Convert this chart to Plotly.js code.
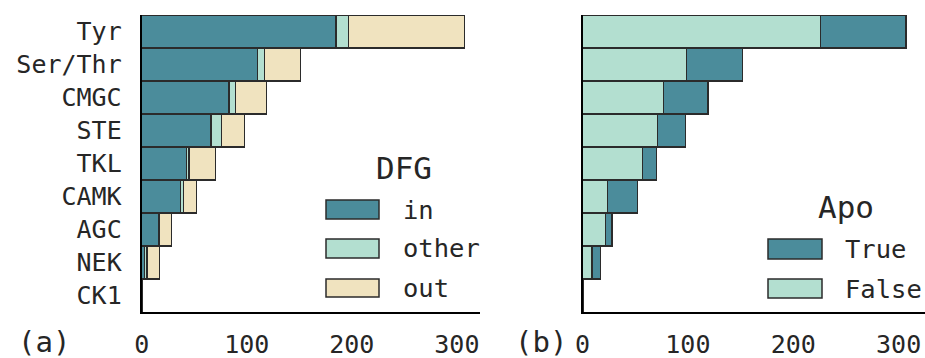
<!DOCTYPE html>
<html>
<head>
<meta charset="utf-8">
<script src="https://cdn.plot.ly/plotly-3.0.1.min.js"></script>
<style>html,body{margin:0;padding:0;background:#fff;}#chart{width:925px;height:358px;}</style>
</head>
<body>
<div id="chart"></div>
<script>
// ---- data ----
const categories = ["Tyr","Ser/Thr","CMGC","STE","TKL","CAMK","AGC","NEK","CK1"];
// panel (a): DFG conformation counts
const dfgIn    = [185, 110, 83, 66, 43, 37, 16, 3, 1];
const dfgOther = [12, 7, 6, 10, 2, 3, 1, 2, 0];
const dfgOut   = [110, 34, 30, 22, 25, 12, 11, 12, 0];
// panel (b): Apo counts
const apoFalse = [226, 99, 77, 71, 57, 24, 22, 9, 1];
const apoTrue  = [81, 53, 42, 27, 13, 28, 6, 8, 0];
const dfgNames = ["in","other","out"];
const apoNames = ["True","False"];
const xTicks = [0, 100, 200, 300];

// ---- styles ----
const C_TEAL = "#4b8c9b", C_MINT = "#b3dfd0", C_CREAM = "#f0e3bf";
const EDGE = {color: "#2b2b2b", width: 1.2};
const FONT = "DejaVu Sans Mono";
const TXT = "#262626";

function bar(x, name, color, xa, ya) {
  return {type: "bar", orientation: "h", y: categories, x: x, name: name,
          xaxis: xa, yaxis: ya, showlegend: false,
          marker: {color: color, line: EDGE}, hoverinfo: "x+y+name"};
}

const traces = [
  bar(dfgIn, dfgNames[0], C_TEAL, "x", "y"),
  bar(dfgOther, dfgNames[1], C_MINT, "x", "y"),
  bar(dfgOut, dfgNames[2], C_CREAM, "x", "y"),
  bar(apoFalse, apoNames[1], C_MINT, "x2", "y2"),
  bar(apoTrue, apoNames[0], C_TEAL, "x2", "y2"),
];

const W = 925, H = 358;
const px = v => v / W, py = v => 1 - v / H;

const yDomain = [py(312), py(15)];
const xAxisBase = {
  showgrid: false, zeroline: false, showline: true, linecolor: "#000", linewidth: 2,
  tickvals: xTicks, ticktext: xTicks.map(String),
  ticks: "outside", ticklen: 9, tickcolor: "rgba(0,0,0,0)",
  tickfont: {family: FONT, size: 25, color: TXT}, fixedrange: true
};
const yAxisBase = {
  type: "category", categoryorder: "array", categoryarray: categories,
  range: [8.5, -0.5], showgrid: false, zeroline: false, showline: true,
  linecolor: "#000", linewidth: 2, ticks: "outside", ticklen: 13,
  tickcolor: "rgba(0,0,0,0)", tickfont: {family: FONT, size: 25, color: TXT},
  domain: yDomain, fixedrange: true
};

const shapes = [], annotations = [];
function legendItem(x0, x1, y0, y1, color, label, tx) {
  shapes.push({type: "rect", xref: "paper", yref: "paper",
    x0: px(x0), x1: px(x1), y0: py(y1), y1: py(y0),
    fillcolor: color, line: {color: "#2b2b2b", width: 1.5}});
  annotations.push({xref: "paper", yref: "paper", x: px(tx), y: py((y0 + y1) / 2),
    xanchor: "left", yanchor: "middle", text: label, showarrow: false,
    font: {family: FONT, size: 25.5, color: TXT}});
}
function title(text, cx, cy) {
  annotations.push({xref: "paper", yref: "paper", x: px(cx), y: py(cy),
    xanchor: "center", yanchor: "middle", text: text, showarrow: false,
    font: {family: FONT, size: 31, color: TXT}});
}
title("DFG", 404, 168);
legendItem(326, 379, 200, 219, C_TEAL, dfgNames[0], 401);
legendItem(326, 379, 239, 258, C_MINT, dfgNames[1], 401);
legendItem(326, 379, 279, 297, C_CREAM, dfgNames[2], 401);
title("Apo", 846, 207);
legendItem(768, 822, 239, 259, C_TEAL, apoNames[0], 843);
legendItem(768, 822, 279, 298, C_MINT, apoNames[1], 843);

annotations.push({xref: "paper", yref: "paper", x: px(44), y: py(342), xanchor: "center",
  yanchor: "middle", text: "(a)", showarrow: false, font: {family: FONT, size: 29, color: TXT}});
annotations.push({xref: "paper", yref: "paper", x: px(541), y: py(342), xanchor: "center",
  yanchor: "middle", text: "(b)", showarrow: false, font: {family: FONT, size: 29, color: TXT}});

const layout = {
  width: W, height: H, margin: {l: 0, r: 0, t: 0, b: 0},
  paper_bgcolor: "#fff", plot_bgcolor: "#fff",
  barmode: "stack", bargap: 0, showlegend: false,
  xaxis: Object.assign({}, xAxisBase, {domain: [px(141.7), px(480)], range: [0, 322], anchor: "y"}),
  yaxis: Object.assign({}, yAxisBase, {anchor: "x"}),
  xaxis2: Object.assign({}, xAxisBase, {domain: [px(582.5), 1], range: [0, 325], anchor: "y2"}),
  yaxis2: Object.assign({}, yAxisBase, {anchor: "x2", showticklabels: false}),
  shapes: shapes, annotations: annotations
};

Plotly.newPlot("chart", traces, layout, {displayModeBar: false, staticPlot: true});
</script>
</body>
</html>
